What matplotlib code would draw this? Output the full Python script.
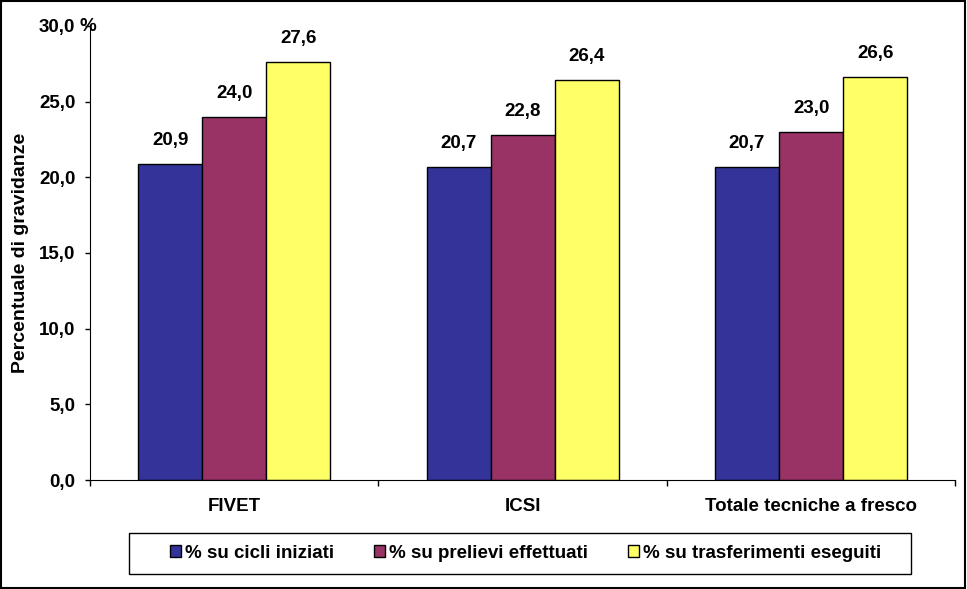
import numpy as np
import matplotlib.pyplot as plt
from matplotlib.patches import Rectangle

plt.rcParams['font.family'] = ['Liberation Sans', 'DejaVu Sans']
plt.rcParams['font.weight'] = 'bold'

categories = ["FIVET", "ICSI", "Totale tecniche a fresco"]
labels = ["% su cicli iniziati", "% su prelievi effettuati", "% su trasferimenti eseguiti"]
cicli = [20.9, 20.7, 20.7]
prelievi = [24.0, 22.8, 23.0]
trasferimenti = [27.6, 26.4, 26.6]
colors = ["#333399", "#993366", "#FFFF66"]

ys = [cicli, prelievi, trasferimenti]
FS = 13.5
W, H = 967, 589

fig = plt.figure(figsize=(9.67, 5.89), dpi=100)
ax = fig.add_axes([0.093, 0.185, 0.895, 0.771])

barWidth = 2 / 9
x = np.arange(len(categories))
for i in range(len(ys)):
    pos = x + (i - 1) * barWidth
    ax.bar(pos, ys[i], width=barWidth, color=colors[i], edgecolor="black",
           linewidth=1, label=labels[i])
    for xp, v in zip(pos, ys[i]):
        ax.text(xp, v + 1.25, f"{v:.1f}".replace(".", ","), ha="center",
                va="baseline", fontsize=FS, fontweight="bold")

ax.set_xlim(-0.5, 2.5)
ax.set_ylim(0, 30)
ax.set_yticks(np.arange(0, 31, 5))
ax.set_yticklabels([f"{t:.1f}".replace(".", ",") for t in np.arange(0, 31, 5)],
                   fontsize=FS, fontweight="bold")
ax.set_xticks([-0.5, 0.5, 1.5, 2.5])
ax.set_xticklabels([])
ax.set_xticks(x, minor=True)
ax.set_xticklabels(categories, minor=True, fontsize=FS, fontweight="bold")
ax.tick_params(axis="x", which="minor", length=0, pad=13)
ax.tick_params(axis="x", which="major", length=4.3, direction="out", width=1)
ax.tick_params(axis="y", length=3.5, direction="out", width=1, pad=7)
ax.spines["top"].set_visible(False)
ax.spines["right"].set_visible(False)
fig.text(80 / W, 1 - 31 / H, "%", fontsize=FS, fontweight="bold",
         va="baseline", ha="left")
ax.set_ylabel("Percentuale di gravidanze", fontsize=14, fontweight="bold")
ax.yaxis.set_label_coords(-0.07, 0.5)

# legend entries without frame, frame drawn separately
leg = fig.legend(loc="center", bbox_to_anchor=(525.5 / W, 1 - 553.5 / H), ncol=3,
                 fontsize=FS, frameon=False, handlelength=0.59, handleheight=0.59,
                 handletextpad=0.2, columnspacing=2.15, borderpad=0, borderaxespad=0)
fig.patches.append(Rectangle((129 / W, 1 - 574 / H), 782 / W, 41 / H,
                             transform=fig.transFigure, fill=False,
                             edgecolor="black", linewidth=1))

fig.patches.append(Rectangle((0.001, 0.001), 0.997, 0.997, transform=fig.transFigure,
                             fill=False, edgecolor="black", linewidth=1.5))

plt.savefig("out.png", dpi=100)
